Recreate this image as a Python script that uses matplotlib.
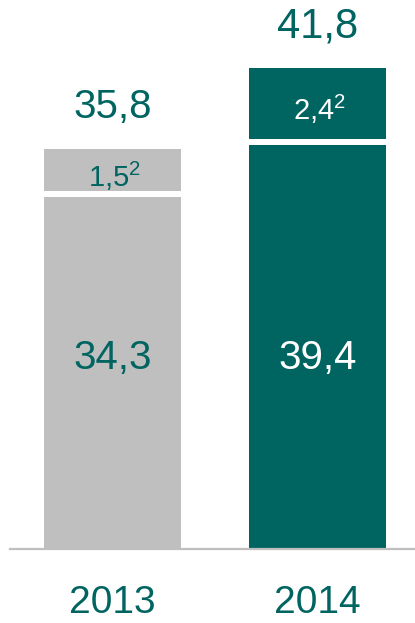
import matplotlib
matplotlib.use("Agg")
import matplotlib.pyplot as plt
import matplotlib.transforms as mtransforms

plt.rcParams['font.family'] = ['Liberation Sans', 'DejaVu Sans']
plt.rcParams['mathtext.fontset'] = 'custom'
plt.rcParams['mathtext.rm'] = 'Liberation Sans'
plt.rcParams['mathtext.it'] = 'Liberation Sans'
plt.rcParams['mathtext.bf'] = 'Liberation Sans'

# ---- data ----
years = ['2013', '2014']
base_values = [34.3, 39.4]
extra_values = [1.5, 2.4]
totals = [35.8, 41.8]
footnote = '2'

# ---- style ----
TEAL = '#006461'
GRAY = '#bfbfbf'
bar_colors = [GRAY, TEAL]
base_text_colors = [TEAL, 'white']
extra_text_colors = [TEAL, 'white']
EMPH = 3.125   # visual emphasis of the small top segments (as in the original slide)
GAP = 0.585    # white separator between segments (data units)

def fmt(v):
    return f"{v:.1f}".replace('.', ',')

fig = plt.figure(figsize=(4.15, 6.23), dpi=100)
ax = fig.add_axes([10/415, 74/623, 405/415, 549/623])
ax.set_xlim(-0.5, 1.4756)
ax.set_ylim(0, 53.5)

x = list(range(len(years)))
ax.bar(x, base_values, width=0.672, color=bar_colors, linewidth=0, zorder=2)
top_h = [v * EMPH for v in extra_values]
ax.bar(x, [h - GAP for h in top_h],
       bottom=[b + GAP for b in base_values],
       width=0.672, color=bar_colors, linewidth=0, zorder=2)

blend = mtransforms.blended_transform_factory(ax.transData, ax.transAxes)
for i in x:
    # base value inside bar
    ax.text(i, 0.355, fmt(base_values[i]), transform=blend, ha='center',
            va='center_baseline', fontsize=29, color=base_text_colors[i])
    # extra segment label with footnote superscript
    yc = base_values[i] + GAP + (top_h[i] - GAP) / 2
    ax.text(i + 0.01, yc - 0.3, fmt(extra_values[i]) + r'$^{\mathrm{' + footnote + '}}$',
            ha='center', va='center_baseline',
            fontsize=21, color=extra_text_colors[i])
    # total above bar
    top = base_values[i] + top_h[i]
    ax.annotate(fmt(totals[i]), xy=(i, top), xytext=(0, 45.5),
                textcoords='offset pixels', ha='center', va='center_baseline',
                fontsize=29 if i == 0 else 30, color=TEAL)
    # year label
    ax.text(i, -0.1166, years[i], transform=blend, ha='center', va='baseline',
            fontsize=28, color=TEAL)

for s in ['top', 'left', 'right']:
    ax.spines[s].set_visible(False)
ax.spines['bottom'].set_color(GRAY)
ax.spines['bottom'].set_linewidth(1.6)
ax.spines['bottom'].set_zorder(3)
ax.set_xticks([])
ax.set_yticks([])
ax.patch.set_alpha(0)

fig.savefig('out.png', dpi=100)
